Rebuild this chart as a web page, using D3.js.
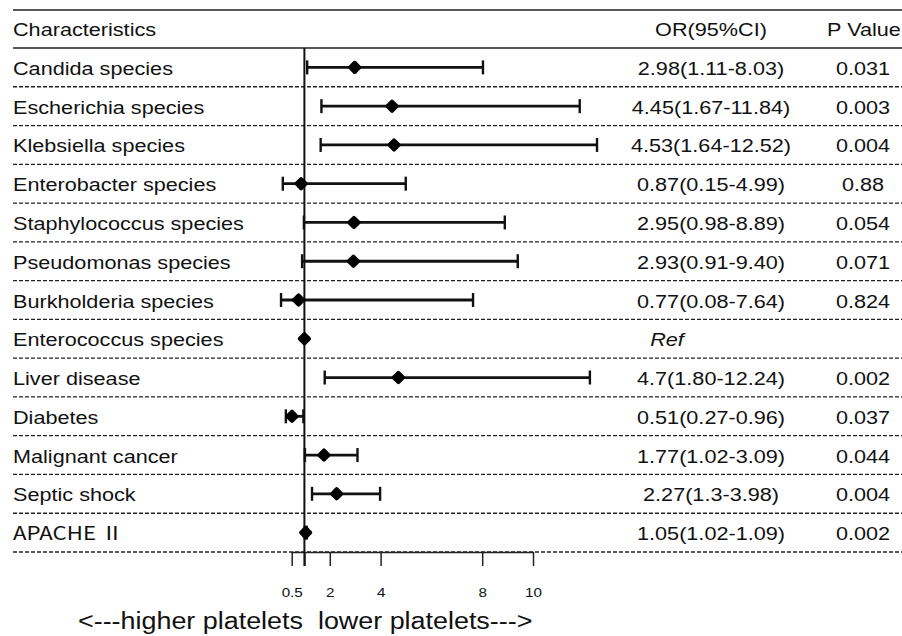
<!DOCTYPE html>
<meta charset="utf-8">
<script src="https://d3js.org/d3.v7.min.js"></script>
<body>
<div id="chart"></div>
<style>
 body { margin: 0; background: #fff; }
 text { font-family: 'Liberation Sans', Arial, sans-serif; fill: #111; }
</style>
<script>
// rows of the forest plot
var labels = ["Candida species", "Escherichia species", "Klebsiella species", "Enterobacter species",
  "Staphylococcus species", "Pseudomonas species", "Burkholderia species", "Enterococcus species",
  "Liver disease", "Diabetes", "Malignant cancer", "Septic shock", "APACHE \u2161"];
var or    = [2.98, 4.45, 4.53, 0.87, 2.95, 2.93, 0.77, 1, 4.7, 0.51, 1.77, 2.27, 1.05];
var lower = [1.11, 1.67, 1.64, 0.15, 0.98, 0.91, 0.08, null, 1.80, 0.27, 1.02, 1.3, 1.02];
var upper = [8.03, 11.84, 12.52, 4.99, 8.89, 9.40, 7.64, null, 12.24, 0.96, 3.09, 3.98, 1.09];
var orText = ["2.98(1.11-8.03)", "4.45(1.67-11.84)", "4.53(1.64-12.52)", "0.87(0.15-4.99)",
  "2.95(0.98-8.89)", "2.93(0.91-9.40)", "0.77(0.08-7.64)", "Ref", "4.7(1.80-12.24)",
  "0.51(0.27-0.96)", "1.77(1.02-3.09)", "2.27(1.3-3.98)", "1.05(1.02-1.09)"];
var pText = ["0.031", "0.003", "0.004", "0.88", "0.054", "0.071", "0.824", "",
  "0.002", "0.037", "0.044", "0.004", "0.002"];
var ticks = [0.5, 1, 2, 4, 8, 10];
var tickLabels = ["0.5", "", "2", "4", "8", "10"];

var width = 902, height = 636;
var stretch = 1.17; // the original picture is a bit wider than tall
var svg = d3.select("#chart").append("svg")
  .attr("width", width).attr("height", height);

var x = d3.scaleLinear().domain([0.5, 10]).range([291.7, 533]);
var y = d3.scaleBand().domain(labels).range([48, 552]);

// text with the same horizontal stretch as the original
function stext(sel, tx, ty, str, size, anchor) {
  return sel.append("text")
    .attr("transform", "translate(" + tx + "," + ty + ") scale(" + stretch + ",1)")
    .attr("text-anchor", anchor || "start")
    .style("font-size", size + "px")
    .text(str);
}

// header lines
svg.append("line").attr("x1", 13).attr("x2", 902).attr("y1", 10).attr("y2", 10)
  .attr("stroke", "#222").attr("stroke-width", 1.5);
svg.append("line").attr("x1", 13).attr("x2", 902).attr("y1", 48).attr("y2", 48)
  .attr("stroke", "#222").attr("stroke-width", 1.5);
stext(svg, 13, 36, "Characteristics", 18.5);
stext(svg, 711, 36, "OR(95%CI)", 18.5, "middle");
stext(svg, 864, 36, "P Value", 18.5, "middle");

// dashed row separators
svg.append("g").selectAll("line").data(labels).enter().append("line")
  .attr("x1", 13).attr("x2", 902)
  .attr("y1", function(d) { return y(d) + y.bandwidth(); })
  .attr("y2", function(d) { return y(d) + y.bandwidth(); })
  .attr("stroke", "#222").attr("stroke-width", 1.3).attr("stroke-dasharray", "4,2");

// bottom axis
var axis = svg.append("g").attr("transform", "translate(0,552)")
  .call(d3.axisBottom(x).tickValues(ticks).tickFormat(function(d, i) { return tickLabels[i]; })
    .tickSize(14).tickSizeOuter(0).tickPadding(22));
axis.select(".domain").attr("stroke", "#222").attr("stroke-width", 1.5);
axis.selectAll(".tick line").attr("stroke", "#222").attr("stroke-width", 1.5);
axis.selectAll(".tick text").style("font-size", "13px")
  .style("font-family", "'Liberation Sans', Arial, sans-serif").attr("fill", "#111")
  .attr("transform", "scale(" + stretch + ",1)");

// reference line at 1
svg.append("line").attr("x1", x(1)).attr("x2", x(1)).attr("y1", 48).attr("y2", 566)
  .attr("stroke", "#111").attr("stroke-width", 2);

// labels and table text
var rows = svg.append("g").selectAll("g").data(labels).enter().append("g")
  .attr("transform", function(d) { return "translate(0," + (y(d) + y.bandwidth() / 2) + ")"; });
rows.each(function(d, i) {
  var g = d3.select(this);
  var lab = stext(g, 13, 7.5, d, 18.5);
  if (i == 12) lab.style("font-family", "'Noto Sans CJK SC', 'Open Sans', sans-serif").style("font-size", "19px");
  var o = stext(g, i == 7 ? 667 : 711, 7.5, orText[i], 18.5, "middle");
  if (i == 7) o.style("font-style", "italic");
  stext(g, 863, 7.5, pText[i], 18.5, "middle");
});

// CI bars
rows.filter(function(d, i) { return lower[i] != null; }).each(function(d) {
  var i = labels.indexOf(d);
  var g = d3.select(this);
  g.append("line").attr("x1", x(lower[i])).attr("x2", x(upper[i])).attr("y1", 0).attr("y2", 0)
    .attr("stroke", "#111").attr("stroke-width", 2.8);
  [lower[i], upper[i]].forEach(function(v) {
    g.append("line").attr("x1", x(v)).attr("x2", x(v)).attr("y1", -7).attr("y2", 7)
      .attr("stroke", "#111").attr("stroke-width", 2.4);
  });
});

// point markers
rows.append("path")
  .attr("d", "M0,-4.6L4.6,0L0,4.6L-4.6,0Z")
  .attr("transform", function(d, i) { return "translate(" + x(or[i]) + ",0)"; })
  .attr("fill", "#000").attr("stroke", "#000").attr("stroke-width", 4).attr("stroke-linejoin", "round");

// direction label
stext(svg, 78, 629, "<---higher platelets\u00a0\u00a0lower platelets--->", 23);
</script>
</body>
